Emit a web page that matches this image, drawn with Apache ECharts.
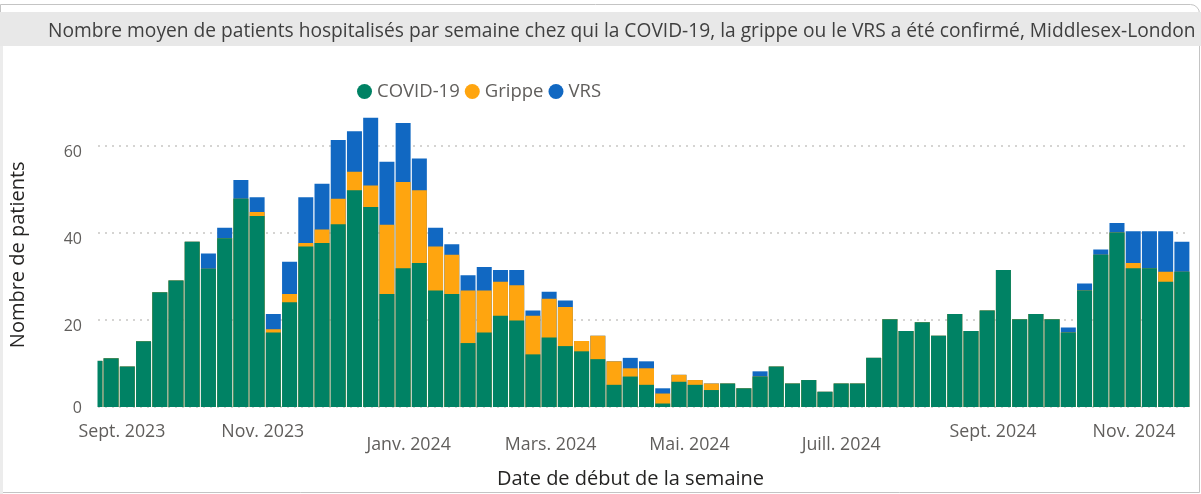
<!DOCTYPE html>
<html>
<head>
<meta charset="utf-8">
<script src="https://cdn.jsdelivr.net/npm/echarts@6/dist/echarts.min.js"></script>
<style>
  html, body { margin: 0; padding: 0; background: #fff; }
  #chart { width: 1201px; height: 494px; }
</style>
</head>
<body>
<div id="chart"></div>
<script>
// semaines (date de début), la première est coupée par le bord du graphique
var weeks = [
  '2023-08-20','2023-08-27','2023-09-03','2023-09-10','2023-09-17','2023-09-24','2023-10-01','2023-10-08',
  '2023-10-15','2023-10-22','2023-10-29','2023-11-05','2023-11-12','2023-11-19','2023-11-26','2023-12-03',
  '2023-12-10','2023-12-17','2023-12-24','2023-12-31','2024-01-07','2024-01-14','2024-01-21','2024-01-28',
  '2024-02-04','2024-02-11','2024-02-18','2024-02-25','2024-03-03','2024-03-10','2024-03-17','2024-03-24',
  '2024-03-31','2024-04-07','2024-04-14','2024-04-21','2024-04-28','2024-05-05','2024-05-12','2024-05-19',
  '2024-05-26','2024-06-02','2024-06-09','2024-06-16','2024-06-23','2024-06-30','2024-07-07','2024-07-14',
  '2024-07-21','2024-07-28','2024-08-04','2024-08-11','2024-08-18','2024-08-25','2024-09-01','2024-09-08',
  '2024-09-15','2024-09-22','2024-09-29','2024-10-06','2024-10-13','2024-10-20','2024-10-27','2024-11-03',
  '2024-11-10','2024-11-17','2024-11-24','2024-12-01'
];

var covid = [
  10.6, 11.2, 9.3, 15.1, 26.4, 29.1, 38.0, 31.8, 38.8, 47.9, 43.9, 17.1, 24.1, 36.9, 37.7, 42.0,
  49.8, 46.0, 26.0, 31.9, 33.1, 26.8, 26.0, 14.7, 17.1, 21.0, 19.9, 12.1, 16.0, 14.0, 12.8, 11.0,
  5.1, 7.0, 5.1, 0.8, 5.8, 5.1, 3.9, 5.4, 4.3, 7.0, 9.3, 5.4, 6.2, 3.5, 5.4, 5.4,
  11.3, 20.2, 17.5, 19.5, 16.4, 21.4, 17.5, 22.2, 31.5, 20.2, 21.4, 20.2, 17.1, 26.8, 35.0, 40.1,
  31.9, 31.9, 28.8, 31.1
];
var grippe = [
  0, 0, 0, 0, 0, 0, 0, 0, 0, 0, 0.9, 0.8, 1.9, 0.8, 3.1, 5.9,
  4.3, 4.9, 15.9, 19.8, 16.7, 10.1, 9.0, 12.1, 9.7, 7.8, 8.1, 8.9, 8.9, 9.0, 2.4, 5.4,
  5.4, 1.9, 3.8, 2.3, 1.6, 1.1, 1.5, 0, 0, 0, 0, 0, 0, 0, 0, 0,
  0, 0, 0, 0, 0, 0, 0, 0, 0, 0, 0, 0, 0, 0, 0, 0,
  1.2, 0, 2.3, 0
];
var vrs = [
  0, 0, 0, 0, 0, 0, 0, 3.5, 2.4, 4.3, 3.4, 3.5, 7.4, 10.5, 10.5, 13.5,
  9.3, 15.6, 14.5, 13.6, 7.3, 4.3, 2.4, 3.5, 5.4, 2.7, 3.5, 1.2, 1.6, 1.5, 0, 0,
  0, 2.4, 1.6, 1.2, 0, 0, 0, 0, 0, 1.2, 0, 0, 0, 0, 0, 0,
  0, 0, 0, 0, 0, 0, 0, 0, 0, 0, 0, 0, 1.2, 1.6, 1.2, 2.2,
  7.3, 8.5, 9.3, 6.9
];

// étiquettes de l'axe des dates (position en semaines depuis weeks[0])
var tickLabels = ['Sept. 2023', 'Nov. 2023', 'Janv. 2024', 'Mars. 2024', 'Mai. 2024', 'Juill. 2024', 'Sept. 2024', 'Nov. 2024'];
var tickPos = [1.67, 10.35, 19.34, 28.09, 36.65, 46.0, 55.36, 64.05];
var tickLow = [false, false, true, true, true, true, false, false];
var yTicks = [0, 20, 40, 60];

// stacked tops: each series is drawn from 0 and the lower ones on top of it
var topGrippe = covid.map(function (v, i) { return v + grippe[i]; });
var topVrs = topGrippe.map(function (v, i) { return v + vrs[i]; });

// x = rang de la semaine dans weeks
function pairs(arr) {
  return arr.map(function (v, i) { return [i, v]; });
}

var font = 'Open Sans';
var grey = '#605e5c';
var chart = echarts.init(document.getElementById('chart'), null, { renderer: 'canvas' });

function makeSeries(name, data, color) {
  return {
    name: name,
    type: 'bar',
    barWidth: 15,
    barGap: '-100%',
    data: pairs(data),
    itemStyle: { color: color },
    clip: true
  };
}

var option = {
  animation: false,
  textStyle: { fontFamily: font },
  graphic: [
    {
      type: 'rect', z: -10, silent: true,
      shape: { x: 0.5, y: 4.5, width: 1199, height: 488, r: [0, 9, 0, 0] },
      style: { fill: 'none', stroke: '#c4c4c4', lineWidth: 1 }
    },
    {
      type: 'rect', z: -9, silent: true,
      shape: { x: 0, y: 12, width: 1201, height: 34 },
      style: { fill: '#e8e8e8' }
    },
    {
      type: 'rect', z: -9, silent: true,
      shape: { x: 0, y: 46, width: 3, height: 448 },
      style: { fill: '#ececec' }
    },
    // bars on a value axis are not cut at the grid edge, hide the overflow
    {
      type: 'rect', z: 50, silent: true,
      shape: { x: 84, y: 300, width: 13.5, height: 113 },
      style: { fill: '#fff' }
    }
  ],
  title: {
    text: 'Nombre moyen de patients hospitalisés par semaine chez qui la COVID-19, la grippe ou le VRS a été confirmé, Middlesex-London',
    left: 43,
    top: 17,
    textStyle: { fontFamily: font, fontSize: 19.2, fontWeight: 'normal', color: '#3f3f3f' }
  },
  legend: {
    left: 352,
    top: 77,
    icon: 'circle',
    itemWidth: 15,
    itemHeight: 15,
    itemGap: 5,
    textStyle: { fontFamily: font, fontSize: 18.5, color: grey },
    data: ['COVID-19', 'Grippe', 'VRS']
  },
  grid: {
    left: 97,
    right: 11,
    top: 102.5,
    bottom: 82.3,
    containLabel: false
  },
  xAxis: {
    type: 'value',
    min: 0.193,
    max: 67.5,
    name: 'Date de début de la semaine',
    nameLocation: 'middle',
    nameGap: 62,
    nameTextStyle: { fontFamily: font, fontSize: 20, color: '#252423', padding: [0, 27, 0, 0] },
    axisLine: { show: false },
    axisTick: { show: false },
    splitLine: { show: false },
    axisLabel: {
      customValues: tickPos,
      margin: 16,
      formatter: function (v) {
        for (var k = 0; k < tickPos.length; k++) {
          if (Math.abs(tickPos[k] - v) < 1e-6) {
            return (tickLow[k] ? '{lo|' : '{up|') + tickLabels[k] + '}';
          }
        }
        return '';
      },
      rich: {
        up: { fontFamily: font, fontSize: 17.8, color: grey },
        lo: { fontFamily: font, fontSize: 17.8, color: grey, padding: [13, 0, 0, 0] }
      }
    }
  },
  yAxis: {
    type: 'value',
    min: 0,
    max: 70,
    interval: 20,
    name: 'Nombre de patients',
    nameLocation: 'middle',
    nameRotate: 90,
    nameGap: 70,
    nameTextStyle: { fontFamily: font, fontSize: 20, color: '#252423' },
    axisLine: { show: false },
    axisTick: { show: false },
    axisLabel: {
      customValues: yTicks,
      margin: 16,
      verticalAlign: 'top',
      formatter: function (v) {
        return v === 0 ? '{z|0}' : '{n|' + v + '}';
      },
      rich: {
        z: { fontFamily: font, fontSize: 16, color: grey, lineHeight: 2 },
        n: { fontFamily: font, fontSize: 16, color: grey, lineHeight: 13 }
      }
    },
    splitLine: {
      show: true,
      showMaxLine: false,
      lineStyle: { type: [2, 5], color: '#c8c6c4', width: 1.5 }
    }
  },
  series: [
    makeSeries('VRS', topVrs, '#1168c2'),
    makeSeries('Grippe', topGrippe, '#ffa50f'),
    makeSeries('COVID-19', covid, '#008264')
  ]
};

chart.setOption(option);
</script>
</body>
</html>
